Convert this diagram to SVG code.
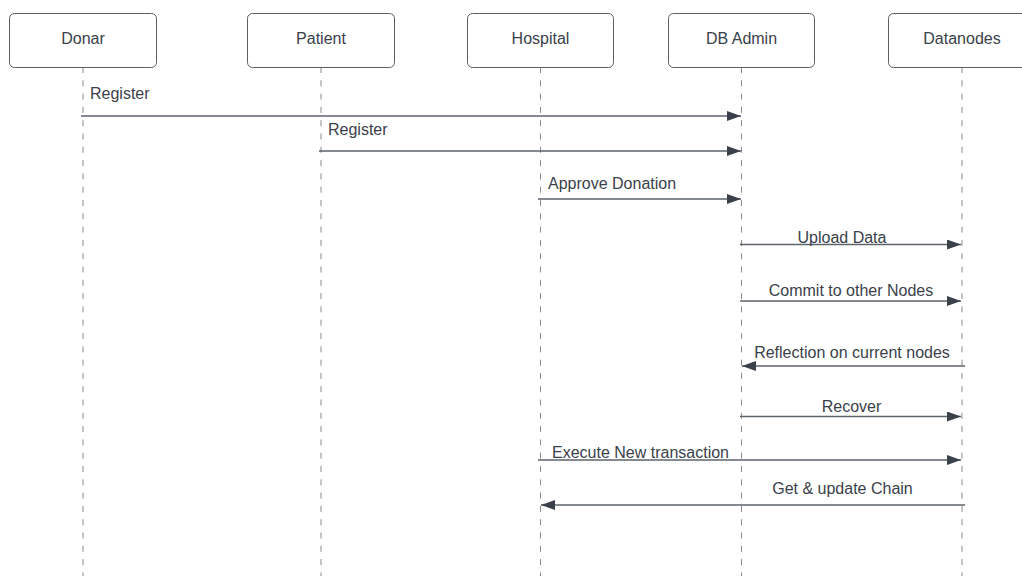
<svg xmlns="http://www.w3.org/2000/svg" width="1022" height="576" viewBox="0 0 1022 576">
<style>
.box{fill:#fff;stroke:#5e5e5e;stroke-width:1}
.lbl{font-family:"Liberation Sans",Arial,sans-serif;font-size:16px;fill:#3a414a}
.life{stroke:#8a8a8a;stroke-width:1;stroke-dasharray:6 7.3;fill:none}
.msg{stroke:#5c636b;stroke-width:1.3;fill:none}
</style>
<defs>
<marker id="ah" viewBox="0 0 14 10" refX="14" refY="5" markerWidth="14" markerHeight="10" markerUnits="userSpaceOnUse" orient="auto">
<path d="M0,0 L14,5 L0,10 Z" fill="#3a414a"/>
</marker>
</defs>
<rect width="1022" height="576" fill="#fff"/>
<g id="lifelines">
<line class="life" x1="83" y1="67" x2="83" y2="576"/>
<line class="life" x1="321" y1="67" x2="321" y2="576"/>
<line class="life" x1="540.5" y1="67" x2="540.5" y2="576"/>
<line class="life" x1="741.5" y1="67" x2="741.5" y2="576"/>
<line class="life" x1="962" y1="67" x2="962" y2="576"/>
</g>
<g id="node-donar"><rect class="box" x="9.5" y="13.5" width="147" height="54" rx="5"/><text class="lbl" x="83" y="43.5" text-anchor="middle">Donar</text></g>
<g id="node-patient"><rect class="box" x="247.5" y="13.5" width="147" height="54" rx="5"/><text class="lbl" x="321" y="43.5" text-anchor="middle">Patient</text></g>
<g id="node-hospital"><rect class="box" x="467.5" y="13.5" width="146" height="54" rx="5"/><text class="lbl" x="540.5" y="43.5" text-anchor="middle">Hospital</text></g>
<g id="node-dbadmin"><rect class="box" x="668.5" y="13.5" width="146" height="54" rx="5"/><text class="lbl" x="741.5" y="43.5" text-anchor="middle">DB Admin</text></g>
<g id="node-datanodes"><rect class="box" x="888.5" y="13.5" width="147" height="54" rx="5"/><text class="lbl" x="962" y="43.5" text-anchor="middle">Datanodes</text></g>
<g id="connectors">
<line class="msg" x1="81" y1="116" x2="741" y2="116" marker-end="url(#ah)"/>
<text class="lbl" x="90" y="99">Register</text>
<line class="msg" x1="319" y1="151" x2="741" y2="151" marker-end="url(#ah)"/>
<text class="lbl" x="328" y="134.5">Register</text>
<line class="msg" x1="538" y1="199" x2="741" y2="199" marker-end="url(#ah)"/>
<text class="lbl" x="548" y="188.5">Approve Donation</text>
<line class="msg" x1="740" y1="244.5" x2="961" y2="244.5" marker-end="url(#ah)"/>
<text class="lbl" x="842" y="242.5" text-anchor="middle">Upload Data</text>
<line class="msg" x1="740" y1="301" x2="961" y2="301" marker-end="url(#ah)"/>
<text class="lbl" x="851" y="296" text-anchor="middle">Commit to other Nodes</text>
<line class="msg" x1="965" y1="366" x2="742" y2="366" marker-end="url(#ah)"/>
<text class="lbl" x="852" y="357.5" text-anchor="middle">Reflection on current nodes</text>
<line class="msg" x1="740" y1="416.5" x2="961" y2="416.5" marker-end="url(#ah)"/>
<text class="lbl" x="851.5" y="411.5" text-anchor="middle">Recover</text>
<line class="msg" x1="538" y1="460" x2="961" y2="460" marker-end="url(#ah)"/>
<text class="lbl" x="552" y="457.5">Execute New transaction</text>
<line class="msg" x1="965" y1="505" x2="541" y2="505" marker-end="url(#ah)"/>
<text class="lbl" x="842.5" y="494" text-anchor="middle">Get &amp; update Chain</text>
</g>
</svg>
